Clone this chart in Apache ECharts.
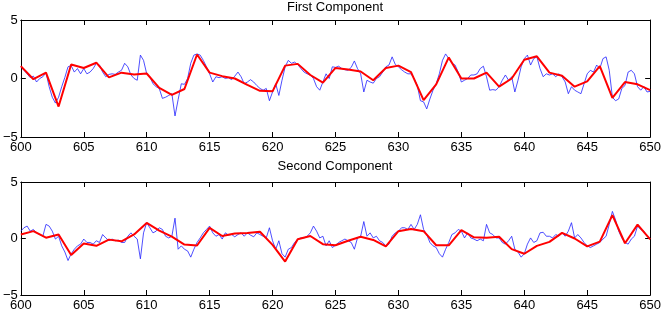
<!DOCTYPE html>
<html>
<head>
<meta charset="utf-8">
<script src="https://cdn.jsdelivr.net/npm/echarts@6/dist/echarts.min.js"></script>
<style>
html,body{margin:0;padding:0;background:#fff;}
#chart{width:664px;height:312px;}
</style>
</head>
<body>
<div id="chart"></div>
<script>
// ---- Data ----
const titles = ['First Component', 'Second Component'];
const xTicks = [600, 605, 610, 615, 620, 625, 630, 635, 640, 645, 650];
const yTicks = [-5, 0, 5];

// red piecewise-linear fit, one value per integer step 600..650
const redT = [600,601,602,603,604,605,606,607,608,609,610,611,612,613,614,615,616,617,618,619,620,621,622,623,624,625,626,627,628,629,630,631,632,633,634,635,636,637,638,639,640,641,642,643,644,645,646,647,648,649,650];
const red1 = [1.06,-0.06,0.5,-2.4,1.2,0.9,1.35,0.1,0.5,0.35,
  0.43,-0.8,-1.4,-0.9,2.05,0.5,0.2,0.0,-0.55,-1.05,
  -1.1,1.1,1.25,0.3,-0.35,0.9,0.77,0.6,-0.15,0.9,
  1.1,0.55,-1.85,-0.5,1.8,0.0,0.0,0.5,-0.7,0.0,
  1.6,1.9,0.5,0.23,-0.7,-0.25,1.05,-1.65,-0.3,-0.5,-1.0];
const red2 = [0.36,0.65,0.07,0.36,-1.46,-0.45,-0.65,-0.1,-0.25,0.36,
  1.38,0.7,0.16,-0.54,-0.62,0.94,0.22,0.45,0.48,0.6,
  -0.56,-2.04,-0.07,0.22,-0.5,-0.6,-0.2,0.16,-0.13,-0.7,
  0.65,0.85,0.65,-0.6,-0.6,0.74,0.1,0.07,0.16,-0.94,
  -1.35,-0.65,-0.3,0.5,0.0,-0.7,-0.28,2.07,-0.42,1.23,-0.07];

// blue raw signal, sampled every quarter step from 600 to 650
const blueStart = 600, blueStep = 0.25;
const blue1 = [
  1.0,0.7,0.4,0.07, 0.2,-0.3,0,0.15, 0.5,-0.7,-1.6,-2.1, -1.6,-0.7,0.1,1.0,
  1.1,0.55,0.85,0.4, 0.85,0.4,0.55,0.85, 1.3,1.15,0.55,0.15, 0.35,0.4,0.35,0.55,
  0.7,1.3,1.0,0.3, 0,-0.15,2.0,1.55, 0.4,0.15,-0.45,-0.7, -0.85,-1.7,-1.6,-1.45,
  -1.3,-3.2,-1.8,-0.45, -0.5,0,1.3,2.0, 2.1,2.0,1.55,1.0, 0.4,-0.3,0.15,0.07,
  0.15,0,0.07,-0.1, 0.2,0.55,0.15,-0.45, -0.3,-0.1,-0.3,-0.6, -0.85,-1.0,-0.85,-1.9,
  -1.15,-0.45,-1.45,-0.15, 1.0,1.55,1.3,1.4, 1.2,0.85,0.55,0.4, 0.3,0,-0.7,-1.0,
  -0.3,0.4,0,1.0, 0.95,1.05,0.85,0.75, 0.7,0.95,1.5,0.85, 0.4,-1.15,-0.15,-0.3,
  -0.4,0,0.15,0.55, 1.0,1.15,1.85,1.2, 1.0,0.75,0.55,0.4, 0.4,0,-0.6,-1.9,
  -2.0,-2.6,-1.75,-1.0, -0.45,0.4,1.55,2.1, 1.7,1.3,1.15,0.55, -0.3,-0.15,0,0.3,
  0.3,0.4,0.85,1.05, 0.15,-1.0,-0.95,-1.0, -0.7,-0.15,0.3,-0.15, 0.15,-1.15,-0.15,1.0,
  1.7,2.0,1.15,1.7, 1.85,0.85,0.15,0.4, 0.3,0.4,0.15,0.4, 0.15,-0.3,-1.3,-0.7,
  -1.0,-1.15,-1.3,-0.45, 0.4,0.7,0.55,1.15, 0.85,1.7,1.85,0.7, -1.6,-1.9,-1.75,-0.85,
  -0.6,0.55,0.7,0.4, -0.7,-1.0,-0.7,-1.15, -1.1];
const blue2 = [
  0.65,0.95,1.1,0.65, 0.8,0.5,0.35,0.2, 1.25,1.1,0.65,-0.05, 0.2,-0.65,-1.2,-1.95,
  -1.35,-0.95,-0.65,-0.5, -0.05,-0.35,-0.35,-0.5, -0.2,-0.35,0.35,0.05, -0.2,-0.05,-0.2,-0.15,
  -0.35,-0.35,0.2,0.5, 0.2,-0.05,-1.8,0.5, 1.4,0.95,0.5,0.65, 0.95,0.8,0.2,0.05,
  0.2,1.8,-0.95,-0.65, -0.95,-1.1,-1.65,-0.95, -0.35,0.05,0.5,0.8, 1.1,0.5,0.2,0.35,
  -0.05,0.5,0.3,0.35, 0.15,0.35,0.5,0.2, 0.5,0.3,0.15,0.5, 0.35,0.2,0.05,0.95,
  -0.2,-0.95,-0.2,-1.35, -1.65,-0.95,-0.8,-0.35, -0.05,0.05,0.05,0.2, 0.5,1.1,0.65,0.05,
  0.2,-0.65,-0.2,-0.8, -0.6,-0.35,-0.2,-0.05, -0.2,-0.35,-0.95,0.05, 0.2,1.5,0.2,0.5,
  0.05,0.2,-0.2,-0.35, -0.65,-0.5,0.2,0.5, 0.65,0.95,0.95,0.8, 1.25,0.8,1.25,2.1,
  0.8,0.35,-0.35,-0.65, -0.8,-1.35,-1.65,-0.95, -0.35,0.35,0.5,0.8, 0.65,0.05,0.5,0.05,
  -0.05,-0.2,-0.05,-0.2, 1.25,0.5,0.35,0.05, 0.05,-0.35,-0.5,-0.2, 0.2,-0.95,-1.2,-1.65,
  -1.35,-0.5,0.05,-0.35, -0.2,0.5,0.55,0.2, 0.2,0.05,0.35,0.2, 0.5,0.2,0.65,1.4,
  0.05,0.35,0.05,-0.35, -0.65,-0.8,-0.65,-0.5, -0.35,-0.05,0.2,1.25, 2.4,1.65,0.65,0.05,
  -0.35,-0.5,-0.05,0.2, 1.1,0.8,0.65,0.2, 0.05];

// ---- Build ----
const FONT = 'Liberation Sans, Arial, Helvetica, sans-serif';
const pair = (t, v) => v.map((y, i) => [t[i], y]);
const blueT = blue1.map((_, i) => blueStart + i * blueStep);

const grids = [
  {left: 16, right: 10, top: 20, height: 117},
  {left: 16, right: 10, top: 182, height: 115}
];
const titleY = [7.5, 166.5];

const xAxes = [], yAxes = [], series = [], graphics = [];
grids.forEach((g, gi) => {
  const common = {
    gridIndex: gi, type: 'value', min: xTicks[0], max: xTicks[xTicks.length - 1],
    interval: xTicks[1] - xTicks[0], splitLine: {show: false},
    axisLine: {show: true, onZero: false, lineStyle: {color: '#000', width: 1}},
    axisTick: {show: true, inside: true, length: 5, lineStyle: {color: '#000'}}
  };
  xAxes.push(Object.assign({}, common, {position: 'bottom',
    axisLabel: {show: true, color: '#000', fontFamily: FONT, fontSize: 13, margin: 4}}));
  xAxes.push(Object.assign({}, common, {position: 'top', axisLabel: {show: false}}));
  const ycommon = {
    gridIndex: gi, type: 'value', min: yTicks[0], max: yTicks[yTicks.length - 1],
    interval: yTicks[1] - yTicks[0], splitLine: {show: false},
    axisLine: {show: true, onZero: false, lineStyle: {color: '#000', width: 1}},
    axisTick: {show: true, inside: true, length: 5, lineStyle: {color: '#000'}}
  };
  yAxes.push(Object.assign({}, ycommon, {position: 'left',
    axisLabel: {show: true, color: '#000', fontFamily: FONT, fontSize: 13, margin: 3,
      formatter: v => String(v).replace('-', '\u2212')}}));
  yAxes.push(Object.assign({}, ycommon, {position: 'right', axisLabel: {show: false}}));
  graphics.push({type: 'text', x: g.left + (664 - g.left - g.right) / 2, y: titleY[gi],
    style: {text: titles[gi], fill: '#000', font: '13px ' + FONT,
      textAlign: 'center', textVerticalAlign: 'middle'}});
});

const blues = [blue1, blue2], reds = [red1, red2];
[0, 1].forEach(gi => {
  series.push({type: 'line', xAxisIndex: gi * 2, yAxisIndex: gi * 2,
    data: pair(blueT, blues[gi]), showSymbol: false, symbol: 'none',
    lineStyle: {color: '#2222ff', width: 0.8}, z: 2, silent: true});
  series.push({type: 'line', xAxisIndex: gi * 2, yAxisIndex: gi * 2,
    data: pair(redT, reds[gi]), showSymbol: false, symbol: 'none',
    lineStyle: {color: '#ff0000', width: 2}, z: 3, silent: true});
});

const chart = echarts.init(document.getElementById('chart'));
chart.setOption({
  animation: false,
  backgroundColor: '#fff',
  grid: grids,
  xAxis: xAxes,
  yAxis: yAxes,
  series: series,
  graphic: graphics
});
</script>
</body>
</html>
